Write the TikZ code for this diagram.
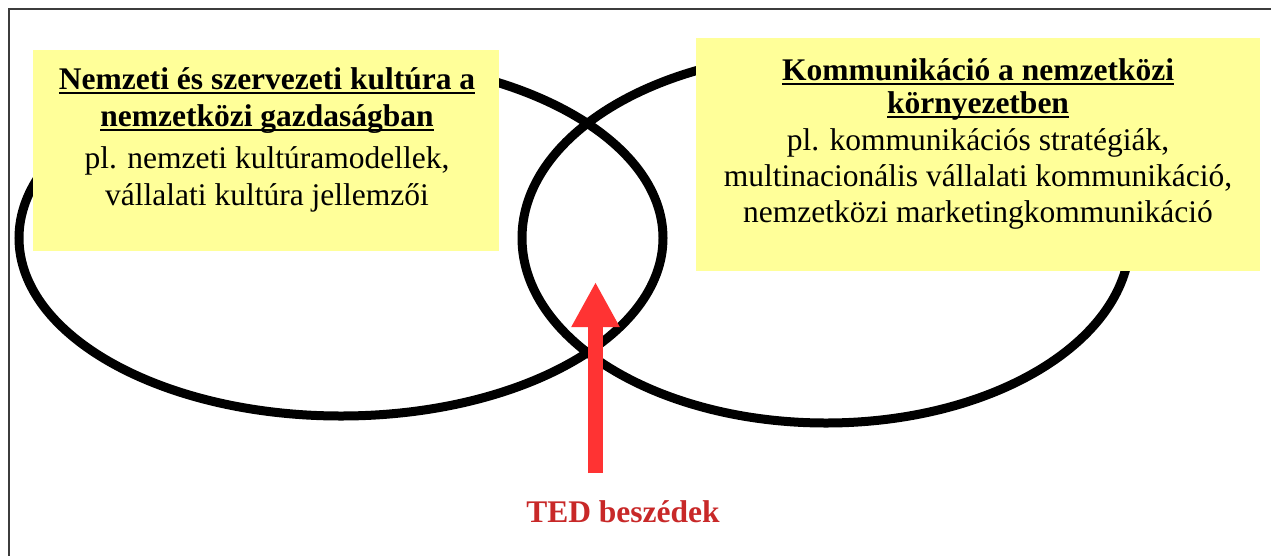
\documentclass[tikz,border=0pt]{standalone}
\usepackage{fontspec}
\setmainfont{Liberation Serif}
\usetikzlibrary{arrows.meta}
\definecolor{boxyellow}{RGB}{255,255,153}
\definecolor{arrowred}{RGB}{255,51,51}
\definecolor{tedred}{RGB}{200,40,40}
\definecolor{framegray}{RGB}{60,60,60}
\newcommand\myul[1]{\setbox0\hbox{#1}\rlap{\rule[-4.5pt]{\wd0}{2pt}}\box0}
\tikzset{
  bigtext/.style={font=\fontsize{31.5}{37}\selectfont, inner sep=0pt, anchor=base},
  titletext/.style={bigtext, font=\fontsize{31.5}{37}\selectfont\bfseries},
  yellowbox/.style={fill=boxyellow, draw=none},
  ring/.style={draw=black, line width=9pt},
}
\begin{document}
\begin{tikzpicture}[x=1pt,y=-1pt]
\useasboundingbox (0,0) rectangle (1271,555);
\fill[white] (0,0) rectangle (1271,555);
% frame (only top and left edges visible)
\draw[framegray, line width=1.6pt] (8.7,1000) -- (8.7,9) -- (1300,9);
% ellipses
\draw[ring] (341,238) ellipse [x radius=322, y radius=178];
\draw[ring] (826,238) ellipse [x radius=304, y radius=185];
% boxes
\fill[yellowbox] (33,50) rectangle (499,251);
\fill[yellowbox] (696,38) rectangle (1260,271);
% left texts
\node[titletext] (lt1) at (267,89) {\myul{Nemzeti és szervezeti kultúra a}};
\node[titletext] (lt2) at (267,126) {\myul{nemzetközi gazdaságban}};
\node[bigtext] (lb1) at (267,168) {pl. nemzeti kultúramodellek,};
\node[bigtext] (lb2) at (267,205) {vállalati kultúra jellemzői};
% right texts
\node[titletext] (rt1) at (978,80) {\myul{Kommunikáció a nemzetközi}};
\node[titletext] (rt2) at (978,113) {\myul{környezetben}};
\node[bigtext] (rb1) at (978,150) {pl. kommunikációs stratégiák,};
\node[bigtext] (rb2) at (978,186) {multinacionális vállalati kommunikáció,};
\node[bigtext] (rb3) at (978,222) {nemzetközi marketingkommunikáció};
% arrow
\coordinate (arrowstart) at (595.5,473);
\coordinate (arrowtip) at (595.5,282);
\draw[arrowred, line width=15pt, -{Triangle[length=45pt, width=45pt]}] (arrowstart) -- (arrowtip);
\node[titletext, text=tedred] (ted) at (623,522) {TED beszédek};
\end{tikzpicture}
\end{document}
